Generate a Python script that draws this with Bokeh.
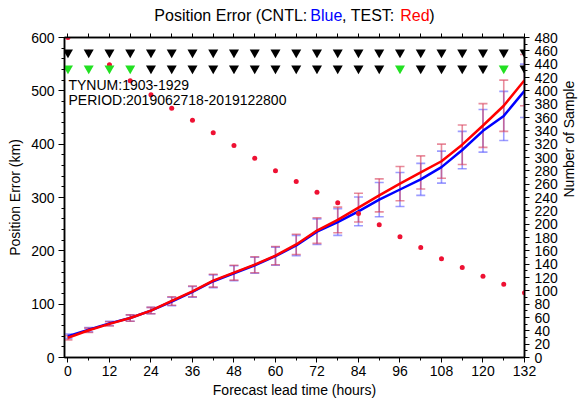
import math
from bokeh.plotting import figure
from bokeh.layouts import column
from bokeh.models import (Range1d, LinearAxis, SingleIntervalTicker, Label, Whisker,
                          ColumnDataSource, TeeHead, CustomJSTickFormatter)
from bokeh.embed import file_html
from bokeh.resources import INLINE

# ---------------- data ----------------
hours = [0, 6, 12, 18, 24, 30, 36, 42, 48, 54, 60, 66, 72, 78, 84, 90, 96, 102, 108, 114, 120, 126, 132]
cntl = [40, 52, 64, 74, 88, 105, 123, 143, 158, 173, 190, 210, 236, 254, 274, 296, 315, 334, 357, 389, 425, 453, 500]
test = [37, 51, 63, 74, 88, 106, 124, 144, 159, 174, 191, 212, 238, 258, 281, 304, 326, 347, 368, 399, 435, 472, 520]
cntl_sd = [4, 4, 4, 6, 6, 8, 10, 12, 14, 15, 17, 19, 24, 25, 27, 32, 32, 30, 30, 35, 40, 46, 50]
test_sd = [4, 4, 4, 6, 6, 8, 10, 12, 14, 15, 17, 19, 24, 24, 27, 31, 32, 31, 32, 37, 41, 48, 48]
samples = [480, 458, 439, 415, 394, 374, 356, 337, 318, 299, 280, 264, 248, 232, 216, 199, 181, 165, 148, 135, 122, 110, 97]
# significance marks: row 1 all not significant, row 2 significant (green) at some leads
row2_green_hours = [0, 6, 12, 18, 96, 126]
title_parts = ["Position Error (CNTL: ", "Blue", ", TEST: ", "Red", ")"]
title_colors = ["black", "blue", "black", "red", "black"]
info_lines = ["TYNUM:1903-1929", "PERIOD:2019062718-2019122800"]

FONT = "Liberation Sans"
W, H = 587, 401
TH = 28                      # height of title strip
PH = H - TH                  # height of main plot
ML, MR, MT, MB = 64, 59, 37 - TH, 44
X0, X1 = -1, 132
Y0, Y1 = 0, 600
fw = W - ML - MR
fh = PH - MT - MB

def px_to_x(px):
    return X0 + (px - ML) * (X1 - X0) / fw

def py_to_y(py):   # py measured from top of the whole page
    return Y0 + (TH + MT + fh - py) * (Y1 - Y0) / fh

# ---------------- title strip (own small figure, frame aligned with main plot) ----------------
tf = figure(width=W, height=TH, x_range=Range1d(X0, X1), y_range=Range1d(0, TH),
            output_backend="svg", toolbar_location=None, title=None,
            min_border_left=ML, min_border_right=MR, min_border_top=0, min_border_bottom=0)
tf.axis.visible = False
tf.grid.visible = False
tf.outline_line_color = None
tf.background_fill_color = "white"
tf.border_fill_color = "white"

AW = {'P': 667, 'o': 556, 's': 500, 'i': 222, 't': 278, 'n': 556, ' ': 278, 'E': 667, 'r': 333,
      '(': 333, 'C': 722, 'N': 722, 'T': 611, 'L': 556, ':': 278, 'B': 667, 'l': 222, 'u': 556,
      'e': 556, ',': 278, 'S': 667, 'R': 722, 'd': 556, ')': 333}
TS = 16
widths = [sum(AW.get(c, 556) for c in part) * TS / 1000 for part in title_parts]
xpos = ML + fw / 2 - sum(widths) / 2
for part, col, wd in zip(title_parts, title_colors, widths):
    tf.add_layout(Label(x=px_to_x(xpos), y=TH - 15, text=part.rstrip(),
                        text_font=FONT, text_font_size=f"{TS}px", text_color=col,
                        text_baseline="middle", text_align="left"))
    xpos += wd

# ---------------- main figure ----------------
p = figure(width=W, height=PH, x_range=Range1d(X0, X1), y_range=Range1d(Y0, Y1),
           output_backend="svg", toolbar_location=None, title=None,
           min_border_left=ML, min_border_right=MR, min_border_top=MT, min_border_bottom=MB)
p.extra_y_ranges = {"n": Range1d(0, 480)}
p.xgrid.visible = False
p.ygrid.visible = False
p.outline_line_color = "black"
p.outline_line_width = 1.5
p.background_fill_color = "white"
p.border_fill_color = "white"

def style(ax, size="14px"):
    ax.axis_line_color = "black"
    ax.axis_line_width = 1.5
    ax.major_tick_line_color = "black"
    ax.minor_tick_line_color = "black"
    ax.major_tick_in = 0
    ax.minor_tick_in = 0
    ax.major_tick_out = 5
    ax.minor_tick_out = 3
    ax.major_label_text_font = FONT
    ax.major_label_text_font_size = size
    ax.major_label_text_color = "black"
    ax.axis_label_text_font = FONT
    ax.axis_label_text_font_size = "14px"
    ax.axis_label_text_font_style = "normal"
    ax.axis_label_text_color = "black"

xa = p.xaxis[0]
xa.ticker = SingleIntervalTicker(interval=12, num_minor_ticks=2)
xa.axis_label = "Forecast lead time (hours)"
style(xa)
xa.major_label_standoff = 3
xa.axis_label_standoff = 3

ya = p.yaxis[0]
ya.ticker = SingleIntervalTicker(interval=100, num_minor_ticks=5)
ya.axis_label = "Position Error (km)"
style(ya)
ya.major_tick_out = 6
ya.major_label_standoff = 4
ya.axis_label_standoff = 5

ra = LinearAxis(y_range_name="n", ticker=SingleIntervalTicker(interval=20, num_minor_ticks=2),
                axis_label="Number of Sample")
style(ra)
ra.major_label_standoff = 5
ra.axis_label_standoff = 8
ra.axis_label_orientation = math.pi / 2
p.add_layout(ra, "right")

ta = LinearAxis(ticker=SingleIntervalTicker(interval=6, num_minor_ticks=0),
                formatter=CustomJSTickFormatter(code="return ''"))
style(ta)
ta.major_tick_out = 4
ta.major_label_standoff = 0
ta.major_label_text_font_size = "1px"
p.add_layout(ta, "above")

# ---------------- error bars ----------------
src = ColumnDataSource(dict(
    x=hours, cntl=cntl, test=test,
    cl=[v - s for v, s in zip(cntl, cntl_sd)], cu=[v + s for v, s in zip(cntl, cntl_sd)],
    tl=[v - s for v, s in zip(test, test_sd)], tu=[v + s for v, s in zip(test, test_sd)],
))

for lo, up, col in (("cl", "cu", "#5a5aff"), ("tl", "tu", "#d8405a")):
    w = Whisker(base="x", lower=lo, upper=up, source=src,
                line_color=col, line_alpha=0.6, line_width=1.6,
                upper_head=TeeHead(size=9, line_color=col, line_alpha=0.6, line_width=1.6),
                lower_head=TeeHead(size=9, line_color=col, line_alpha=0.6, line_width=1.6))
    p.add_layout(w)

# ---------------- lines ----------------
p.line("x", "cntl", source=src, line_color="#0000ff", line_width=2.5)
p.line("x", "test", source=src, line_color="#ff0000", line_width=2.5)

# ---------------- samples ----------------
p.scatter(hours, samples, y_range_name="n", size=5, marker="circle",
          fill_color="#ee1133", line_color=None)

# ---------------- significance triangles ----------------
row1_y = py_to_y(52)
row2_y = py_to_y(68)
p.scatter(hours, [row1_y] * len(hours), marker="inverted_triangle", size=10,
          fill_color="black", line_color=None)
row2_colors = ["#22e022" if h in row2_green_hours else "black" for h in hours]
p.scatter(hours, [row2_y] * len(hours), marker="inverted_triangle", size=10,
          fill_color=row2_colors, line_color=None)

# ---------------- info texts ----------------
for i, t in enumerate(info_lines):
    p.add_layout(Label(x=px_to_x(68), y=py_to_y(84 + 15.5 * i), text=t, text_font=FONT,
                       text_font_size="14px", text_color="black", text_baseline="alphabetic",
                       text_align="left"))

layout = column(tf, p, spacing=0)
open("out.html", "w").write(file_html(layout, INLINE))
